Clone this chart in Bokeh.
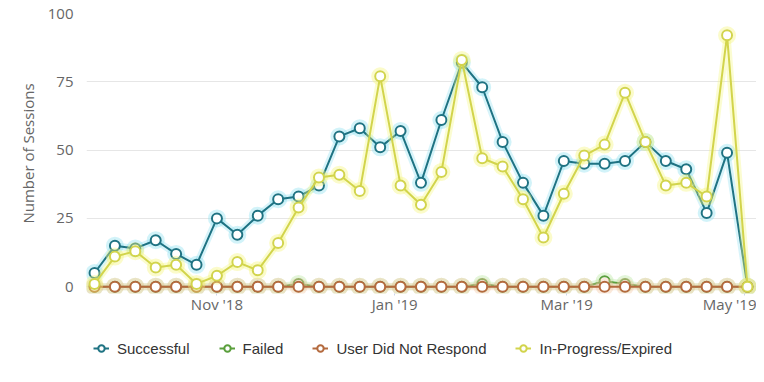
import pandas as pd
from bokeh.plotting import figure
from bokeh.layouts import column
from bokeh.models import (Range1d, Legend, LegendItem, SingleIntervalTicker,
                          MonthsTicker, DatetimeTickFormatter)
from bokeh.embed import file_html
from bokeh.resources import INLINE

dates = ["2018-09-20", "2018-09-27", "2018-10-04", "2018-10-11", "2018-10-18",
         "2018-10-25", "2018-11-01", "2018-11-08", "2018-11-15", "2018-11-22",
         "2018-11-29", "2018-12-06", "2018-12-13", "2018-12-20", "2018-12-27",
         "2019-01-03", "2019-01-10", "2019-01-17", "2019-01-24", "2019-01-31",
         "2019-02-07", "2019-02-14", "2019-02-21", "2019-02-28", "2019-03-07",
         "2019-03-14", "2019-03-21", "2019-03-28", "2019-04-04", "2019-04-11",
         "2019-04-18", "2019-04-25", "2019-05-02"]

successful = [5, 15, 14, 17, 12, 8, 25, 19, 26, 32, 33, 37, 55, 58, 51, 57, 38,
              61, 82, 73, 53, 38, 26, 46, 45, 45, 46, 53, 46, 43, 27, 49, 0]
failed = [0, 0, 0, 0, 0, 0, 0, 0, 0, 0, 1, 0, 0, 0, 0, 0, 0,
          0, 0, 1, 0, 0, 0, 0, 0, 2, 1, 0, 0, 0, 0, 0, 0]
no_response = [0] * 33
in_progress = [1, 11, 13, 7, 8, 1, 4, 9, 6, 16, 29, 40, 41, 35, 77, 37, 30,
               42, 83, 47, 44, 32, 18, 34, 48, 52, 71, 53, 37, 38, 33, 92, 0]

series_names = ["Successful", "Failed", "User Did Not Respond", "In-Progress/Expired"]
series_values = [successful, failed, no_response, in_progress]
line_colors = ["#1f7383", "#5a9f3c", "#b46a3e", "#d2d44c"]
glow_colors = ["#8fe0f0", "#b8e6a0", "#f2c9a6", "#f4f57a"]
month_ticks = [0, 2, 4, 10]
y_tick_interval = 25

x = pd.to_datetime(dates)

p = figure(frame_width=670, frame_height=280, x_axis_type="datetime",
           output_backend="svg", toolbar_location=None,
           min_border_left=86, min_border_right=0, min_border_top=13,
           min_border_bottom=33)
p.x_range = Range1d(x[0] - pd.Timedelta(days=2.75), x[-1] + pd.Timedelta(days=3.1))
p.y_range = Range1d(-2.5, 100)
p.outline_line_color = None
p.background_fill_color = "white"
p.border_fill_color = "white"

p.xgrid.grid_line_color = None
p.ygrid.grid_line_color = "#e6e6e6"
p.ygrid.grid_line_width = 1

p.xaxis.ticker = MonthsTicker(months=month_ticks)
fmt = "%b '%y"
p.xaxis.formatter = DatetimeTickFormatter(days=fmt, months=fmt, years=fmt, context=None)
p.xaxis.axis_line_color = None
p.xaxis.major_tick_line_color = "#ccd6eb"
p.xaxis.major_tick_in = 0
p.xaxis.major_tick_out = 2
p.xaxis.minor_tick_line_color = None
p.xaxis.major_label_standoff = -2
p.xaxis.major_label_text_font = "Open Sans"
p.xaxis.major_label_text_font_size = "15px"
p.xaxis.major_label_text_color = "#666666"

p.yaxis.ticker = SingleIntervalTicker(interval=y_tick_interval)
p.yaxis.axis_line_color = None
p.yaxis.major_tick_line_color = None
p.yaxis.minor_tick_line_color = None
p.yaxis.major_label_standoff = 7
p.yaxis.major_label_text_font = "Open Sans"
p.yaxis.major_label_text_font_size = "15px"
p.yaxis.major_label_text_color = "#666666"
p.yaxis.axis_label = "Number of Sessions"
p.yaxis.axis_label_text_font = "Open Sans"
p.yaxis.axis_label_text_font_size = "15px"
p.yaxis.axis_label_text_font_style = "normal"
p.yaxis.axis_label_text_color = "#666666"
p.yaxis.axis_label_standoff = 7

# legend figure (legend only, no visible marks)
lp = figure(width=756, height=40, output_backend="svg", toolbar_location=None,
            x_axis_location=None, y_axis_location=None,
            min_border=0, x_range=Range1d(0, 1), y_range=Range1d(0, 1))
lp.outline_line_color = None
lp.grid.visible = False

nan = float("nan")
items = []
for name, vals, lc, gc in zip(series_names, series_values, line_colors, glow_colors):
    p.line(x, vals, line_color=gc, line_width=7, line_alpha=0.35)
    p.scatter(x, vals, size=15, marker="circle", fill_color=None,
              line_color=gc, line_width=3, line_alpha=0.4)
    p.line(x, vals, line_color=lc, line_width=2)
    p.scatter(x, vals, size=10, marker="circle", fill_color="white",
              line_color=lc, line_width=2)
    ln = lp.line([nan], [nan], line_color=lc, line_width=2)
    sc = lp.scatter([nan], [nan], size=10, marker="circle", fill_color="white",
                    line_color=lc, line_width=2)
    items.append(LegendItem(label=name, renderers=[ln, sc]))

legend = Legend(items=items, orientation="horizontal", location=(7, 8),
                border_line_color=None, background_fill_alpha=0,
                label_text_font="Liberation Sans", label_text_font_size="15px",
                label_text_color="#333333", glyph_width=16, glyph_height=20,
                label_standoff=8, spacing=29, padding=2, margin=0)
lp.add_layout(legend)

layout = column(p, lp, spacing=0)
open("out.html", "w").write(file_html(layout, INLINE))
